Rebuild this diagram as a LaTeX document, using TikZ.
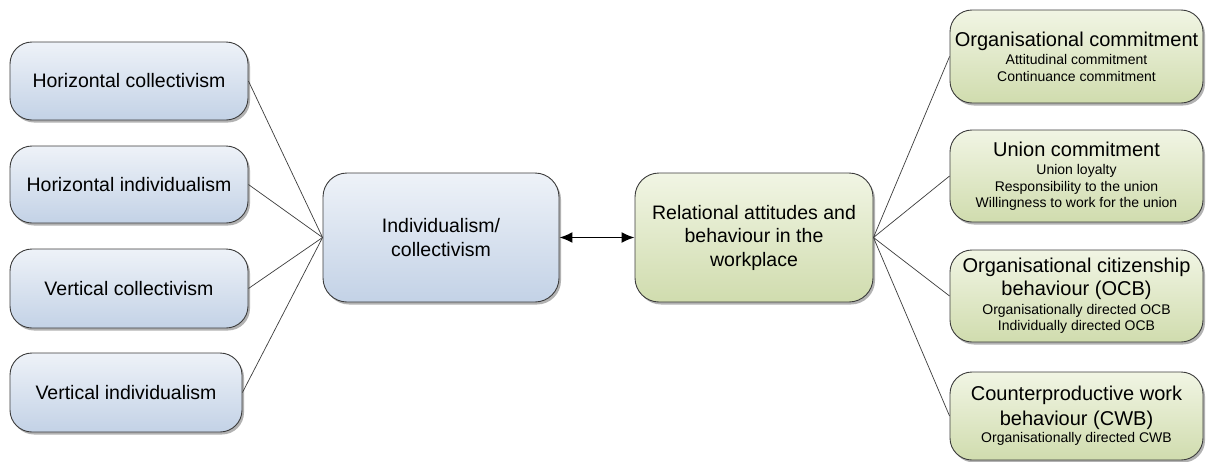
\documentclass[tikz,border=0pt]{standalone}
\usepackage{fontspec}
\setmainfont{Liberation Sans}
\usetikzlibrary{arrows.meta,shadows}

\definecolor{edgegray}{HTML}{3C3C3C}
\definecolor{blueTop}{HTML}{EEF2F8}
\definecolor{blueBot}{HTML}{C3D2E6}
\definecolor{greenTop}{HTML}{F1F5E4}
\definecolor{greenBot}{HTML}{D0DCAE}

\tikzset{
  box/.style={draw=edgegray, line width=0.9pt, rounded corners=22pt,
    align=center, inner sep=2pt,
    drop shadow={shadow xshift=2pt, shadow yshift=-2.5pt, fill=black!60, opacity=0.5}},
  bluebox/.style={box, top color=blueTop, bottom color=blueBot},
  greenbox/.style={box, top color=greenTop, bottom color=greenBot},
  dimtext/.style={font=\fontsize{19.5}{24}\selectfont},
  subtext/.style={font=\fontsize{14}{16.5}\selectfont},
  link/.style={draw=edgegray, line width=0.7pt},
  both/.style={draw=black, line width=1.6pt,
    {Latex[length=13pt,width=11pt]}-{Latex[length=13pt,width=11pt]}},
}
\newcommand{\boxtitle}[1]{{\fontsize{20}{23}\selectfont #1}}

\begin{document}
\begin{tikzpicture}[x=1pt,y=-1pt]
  \useasboundingbox[fill=white] (0,0) rectangle (1209,461);

  % cultural orientation dimensions
  \node[bluebox, dimtext, minimum width=238pt, minimum height=78pt] (hc) at (129,81)  {Horizontal collectivism};
  \node[bluebox, dimtext, minimum width=238pt, minimum height=77pt] (hi) at (129,184.5) {Horizontal individualism};
  \node[bluebox, dimtext, minimum width=238pt, minimum height=79pt] (vc) at (129,288.5) {Vertical collectivism};
  \node[bluebox, dimtext, minimum width=232pt, minimum height=79pt] (vi) at (126,392.5) {Vertical individualism};

  % central constructs
  \node[bluebox, dimtext, rounded corners=24pt, minimum width=236pt, minimum height=129pt] (ic) at (441,237.5)
    {Individualism/\\collectivism};
  \node[greenbox, font=\fontsize{19.5}{23.5}\selectfont, rounded corners=24pt, minimum width=238pt, minimum height=129pt] (ra) at (754,237.5)
    {Relational attitudes and\\behaviour in the\\workplace};

  % workplace outcomes
  \node[greenbox, subtext, minimum width=253pt, minimum height=93pt] (oc) at (1076.5,56.5)
    {\boxtitle{Organisational commitment}\\[2pt]Attitudinal commitment\\Continuance commitment};
  \node[greenbox, subtext, minimum width=253pt, minimum height=92pt] (uc) at (1076.5,176)
    {\boxtitle{Union commitment}\\[2pt]Union loyalty\\Responsibility to the union\\Willingness to work for the union};
  \node[greenbox, subtext, minimum width=253pt, minimum height=92pt] (ocb) at (1076.5,296)
    {\boxtitle{Organisational citizenship}\\[3pt]\boxtitle{behaviour (OCB)}\\[2pt]Organisationally directed OCB\\Individually directed OCB};
  \node[greenbox, subtext, minimum width=253pt, minimum height=88pt] (cwb) at (1076.5,416)
    {\boxtitle{Counterproductive work}\\[5pt]\boxtitle{behaviour (CWB)}\\[1pt]Organisationally directed CWB};

  % connectors
  \foreach \n in {hc,hi,vc,vi} \draw[link] (\n.east) -- (ic.west);
  \foreach \n in {oc,uc,ocb,cwb} \draw[link] (ra.east) -- (\n.west);
  \draw[both] (ic.east) -- (ra.west);
\end{tikzpicture}
\end{document}
